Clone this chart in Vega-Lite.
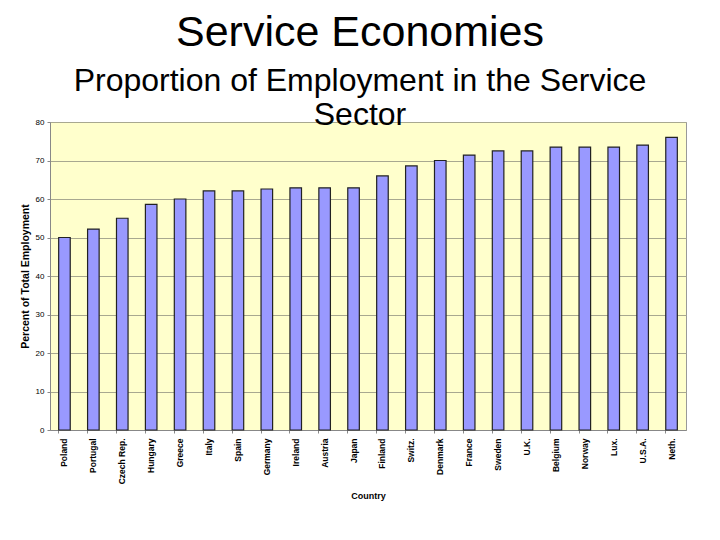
{
  "$schema": "https://vega.github.io/schema/vega-lite/v6.json",
  "autosize": "none",
  "width": 636,
  "height": 308,
  "padding": {"left": 50, "top": 122, "right": 34, "bottom": 110},
  "background": "white",
  "title": {
    "text": "Service Economies",
    "subtitle": ["Proportion of Employment in the Service", "Sector"],
    "anchor": "middle",
    "frame": "group",
    "dx": -8,
    "offset": -13,
    "font": "Liberation Sans",
    "fontSize": 43,
    "fontWeight": "normal",
    "color": "black",
    "subtitleFont": "Liberation Sans",
    "subtitleFontSize": 32,
    "subtitleColor": "black",
    "subtitleLineHeight": 34,
    "subtitlePadding": 11
  },
  "data": {
    "values": [
      {"country": "Poland", "pct": 50},
      {"country": "Portugal", "pct": 52.2},
      {"country": "Czech Rep.", "pct": 55},
      {"country": "Hungary", "pct": 58.6},
      {"country": "Greece", "pct": 60},
      {"country": "Italy", "pct": 62.1},
      {"country": "Spain", "pct": 62.1},
      {"country": "Germany", "pct": 62.6},
      {"country": "Ireland", "pct": 62.9},
      {"country": "Austria", "pct": 62.9},
      {"country": "Japan", "pct": 62.9},
      {"country": "Finland", "pct": 66},
      {"country": "Switz.", "pct": 68.6},
      {"country": "Denmark", "pct": 70},
      {"country": "France", "pct": 71.4},
      {"country": "Sweden", "pct": 72.5},
      {"country": "U.K.", "pct": 72.5},
      {"country": "Belgium", "pct": 73.5},
      {"country": "Norway", "pct": 73.5},
      {"country": "Lux.", "pct": 73.5},
      {"country": "U.S.A.", "pct": 74},
      {"country": "Neth.", "pct": 76}
    ]
  },
  "mark": {"type": "bar", "color": "#9999FF", "stroke": "#222222", "strokeWidth": 1.2},
  "encoding": {
    "x": {
      "field": "country",
      "type": "nominal",
      "sort": null,
      "scale": {"paddingInner": 0.6, "paddingOuter": 0.3},
      "axis": {
        "title": "Country",
        "titleFont": "Liberation Sans",
        "titleFontSize": 9,
        "titleFontWeight": "bold",
        "titleColor": "black",
        "titlePadding": 8,
        "titleX": 318,
        "labelAngle": 270,
        "labelFont": "Liberation Sans",
        "labelFontSize": 8.5,
        "labelFontWeight": "bold",
        "labelColor": "black",
        "labelPadding": 5,
        "bandPosition": 0,
        "tickSize": 3,
        "tickColor": "#888888",
        "domainColor": "#888888"
      }
    },
    "y": {
      "field": "pct",
      "type": "quantitative",
      "scale": {"domain": [0, 80], "nice": false},
      "axis": {
        "title": "Percent of Total Employment",
        "titleFont": "Liberation Sans",
        "titleFontSize": 10.5,
        "titleFontWeight": "bold",
        "titleColor": "black",
        "titlePadding": 5,
        "values": [0, 10, 20, 30, 40, 50, 60, 70, 80],
        "labelFont": "Liberation Sans",
        "labelFontSize": 8,
        "labelColor": "black",
        "labelPadding": 3,
        "tickSize": 3,
        "tickColor": "#888888",
        "domainColor": "#888888",
        "gridColor": "#A8A890",
        "gridOpacity": 1,
        "gridWidth": 1
      }
    }
  },
  "config": {
    "view": {"fill": "#FFFFCC", "stroke": "#999999", "strokeWidth": 1}
  }
}
